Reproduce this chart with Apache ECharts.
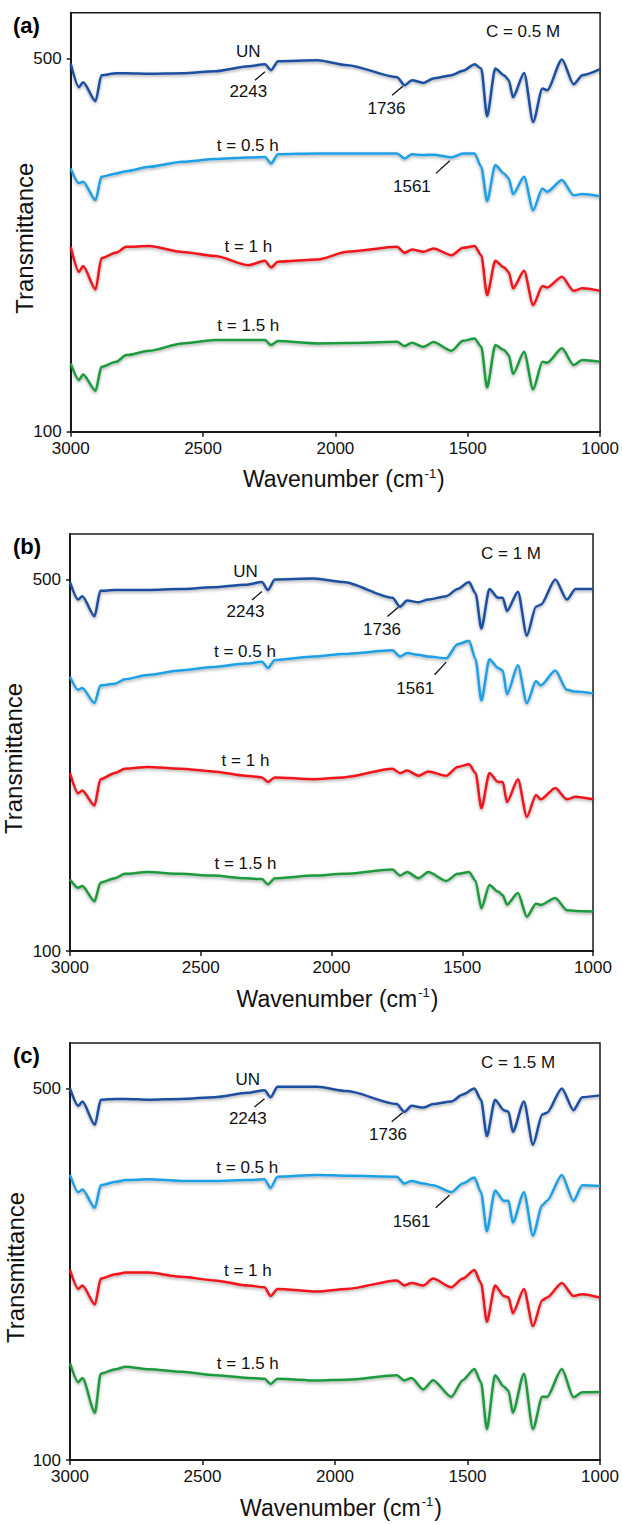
<!DOCTYPE html>
<html>
<head>
<meta charset="utf-8">
<title>FTIR spectra</title>
<script src="https://cdn.jsdelivr.net/npm/echarts@6/dist/echarts.min.js"></script>
<style>
  html, body { margin: 0; padding: 0; background: #fff; }
  #chart { width: 622px; height: 1525px; }
</style>
</head>
<body>
<div id="chart"></div>
<script>
// wavenumber sample points (cm-1), shared by every spectrum
const wavenumbers = [3000, 2969, 2953, 2906, 2884, 2828, 2790, 2703, 2579, 2454, 2329, 2266, 2243, 2217, 2067, 1955, 1767, 1738, 1711, 1667, 1630, 1561, 1518, 1474, 1449, 1427, 1396, 1363, 1345, 1329, 1287, 1253, 1218, 1200, 1144, 1100, 1067, 1000];

const seriesNames = ['UN', 't = 0.5 h', 't = 1 h', 't = 1.5 h'];
const concentrations = ['C = 0.5 M', 'C = 1 M', 'C = 1.5 M'];
const panelTags = ['(a)', '(b)', '(c)'];
const yTicks = [100, 500];

// panel (a) C = 0.5 M
const a_UN = [494.6, 469.2, 474.6, 454.2, 482.1, 484.2, 484.2, 483.7, 484.2, 486.3, 491.7, 493.8, 487.4, 497.1, 498.1, 492.8, 479.9, 471.3, 476.7, 473.8, 478.5, 482.1, 486.7, 493.8, 489.2, 438.1, 489.2, 482.1, 476.7, 458.5, 484.5, 432.0, 467.8, 466.0, 498.9, 472.4, 482.1, 488.5];
const a_05 = [382.1, 366.4, 367.8, 348.2, 373.1, 376.8, 379.2, 383.8, 389.2, 392.1, 393.7, 394.5, 387.5, 397.4, 398.2, 398.2, 398.2, 392.8, 397.4, 396.4, 396.9, 393.9, 398.2, 398.2, 383.8, 347.1, 385.7, 376.8, 371.4, 354.6, 373.1, 337.4, 360.7, 357.1, 369.6, 353.5, 354.6, 352.4];
const a_1 = [298.1, 271.4, 277.5, 252.5, 286.0, 292.0, 298.1, 298.9, 292.5, 288.2, 278.5, 283.1, 276.1, 282.1, 284.6, 292.8, 298.1, 291.7, 295.3, 292.8, 296.4, 289.2, 297.1, 298.9, 289.2, 246.4, 283.1, 276.1, 271.0, 253.6, 272.4, 235.7, 256.0, 254.6, 266.0, 251.0, 253.6, 251.0];
const a_15 = [173.2, 155.4, 161.4, 143.9, 169.6, 174.9, 182.1, 186.7, 194.6, 198.2, 198.2, 198.2, 192.8, 197.1, 194.6, 195.0, 196.4, 191.8, 195.3, 191.0, 196.0, 186.7, 197.4, 200.0, 191.0, 147.5, 192.8, 187.5, 182.1, 161.8, 185.6, 145.4, 174.9, 173.9, 189.3, 171.4, 176.8, 175.0];

// panel (b) C = 1 M
const b_UN = [497.2, 478.4, 482.1, 460.4, 487.8, 488.7, 488.7, 488.7, 489.7, 491.6, 494.4, 497.2, 488.7, 500.1, 501.0, 497.2, 480.3, 470.8, 477.4, 475.5, 478.4, 482.1, 489.7, 497.2, 485.0, 447.2, 489.7, 480.3, 480.3, 466.1, 486.9, 439.7, 470.8, 472.7, 500.1, 478.4, 489.7, 489.7];
const b_05 = [395.3, 381.2, 383.1, 367.0, 385.9, 387.8, 392.5, 397.2, 402.0, 405.7, 409.5, 411.4, 404.8, 413.3, 417.1, 419.9, 423.7, 417.1, 420.8, 418.9, 417.1, 415.2, 430.3, 434.0, 414.2, 369.9, 414.2, 404.8, 402.0, 376.5, 407.6, 367.0, 390.6, 385.9, 402.0, 381.2, 379.3, 377.4];
const b_1 = [291.6, 269.9, 272.7, 256.7, 285.0, 291.6, 296.3, 298.2, 296.3, 293.4, 288.7, 286.9, 282.1, 286.9, 285.0, 286.9, 296.3, 291.6, 294.4, 288.7, 293.4, 288.7, 298.2, 301.0, 291.6, 253.8, 291.6, 282.1, 282.1, 260.4, 285.0, 244.4, 268.0, 263.3, 275.5, 263.3, 266.1, 263.3];
const b_15 = [177.0, 168.0, 170.0, 153.5, 173.6, 178.4, 183.1, 185.0, 183.1, 181.2, 178.4, 177.4, 171.8, 178.4, 181.2, 183.1, 187.8, 181.2, 185.0, 178.4, 185.0, 175.5, 183.1, 185.0, 175.5, 146.0, 171.0, 164.0, 160.0, 150.0, 162.5, 137.0, 151.0, 149.6, 157.0, 144.0, 143.0, 142.4];

// panel (c) C = 1.5 M
const c_UN = [500.0, 481.4, 486.0, 460.9, 487.9, 488.8, 488.8, 487.9, 488.8, 490.7, 495.4, 498.1, 490.7, 501.9, 501.9, 497.2, 483.3, 474.9, 481.4, 479.5, 483.3, 486.0, 493.5, 500.0, 487.9, 448.8, 487.9, 476.7, 475.0, 453.5, 486.0, 439.5, 472.1, 474.0, 500.0, 476.7, 490.7, 492.6];
const c_05 = [407.0, 388.4, 391.2, 371.6, 395.8, 399.6, 401.4, 402.3, 400.5, 400.5, 401.4, 402.3, 393.0, 405.1, 407.0, 406.1, 405.1, 397.7, 400.5, 397.7, 395.8, 388.4, 397.7, 404.2, 388.4, 346.5, 390.2, 379.1, 379.1, 355.8, 388.4, 341.7, 374.4, 379.1, 407.0, 379.1, 395.8, 394.9];
const c_1 = [304.6, 284.2, 287.9, 267.4, 295.3, 300.0, 301.8, 301.8, 297.2, 293.4, 287.9, 286.0, 276.7, 284.2, 281.4, 284.2, 293.4, 287.9, 290.6, 287.9, 295.3, 286.0, 295.3, 304.6, 290.6, 248.9, 287.9, 276.7, 274.9, 258.1, 284.2, 244.2, 272.1, 274.9, 290.6, 276.7, 278.6, 274.9];
const c_15 = [204.2, 183.7, 188.4, 151.0, 193.0, 197.7, 200.5, 197.7, 194.9, 191.2, 188.4, 187.4, 181.9, 187.4, 185.6, 186.5, 191.2, 185.6, 188.4, 176.0, 186.0, 168.0, 186.0, 198.0, 183.7, 133.4, 191.2, 179.1, 174.5, 151.0, 193.0, 133.4, 168.0, 168.0, 198.0, 167.6, 173.0, 173.3];

const panelData = [
  [a_UN, a_05, a_1, a_15],
  [b_UN, b_05, b_1, b_15],
  [c_UN, c_05, c_1, c_15],
];
const yMax = [549, 549, 549];

// label anchors in data units [wavenumber, transmittance]
const curveLabelAt = [
  [[2329, 507], [2331, 407], [2329, 298], [2329, 213.5]],
  [[2329, 509], [2331, 423], [2329, 305], [2329, 194]],
  [[2329, 510], [2331, 415], [2329, 304], [2329, 204]],
];
const peakNotes = [
  [
    { text: '2243', from: [2266, 485.6], to: [2304, 476.7], at: [2329, 464.2] },
    { text: '1736', from: [1745, 470.3], to: [1786, 460.6], at: [1807, 446.4] },
    { text: '1561', from: [1568, 390.3], to: [1620, 376.8], at: [1711, 362.4] },
  ],
  [
    { text: '2243', from: [2266, 487], to: [2304, 478], at: [2329, 465.5] },
    { text: '1736', from: [1745, 470], to: [1786, 460.3], at: [1807, 446] },
    { text: '1561', from: [1561, 411], to: [1606, 397.5], at: [1680, 383] },
  ],
  [
    { text: '2243', from: [2266, 489], to: [2304, 480], at: [2329, 467.5] },
    { text: '1736', from: [1745, 474], to: [1786, 464.3], at: [1800, 450] },
    { text: '1561', from: [1568, 385], to: [1620, 371.5], at: [1711, 357] },
  ],
];

const colors = ['#1d4f9f', '#1fa0e6', '#f2141c', '#1e9a3c'];
const FONT = '"Liberation Sans", Arial, Helvetica, sans-serif';
const INK = '#1a1a1a';

const grids = [
  { left: 70.7, top: 12.7, width: 534.3, height: 419 },
  { left: 70, top: 534, width: 523, height: 417 },
  { left: 70, top: 1043, width: 530, height: 417 },
];
const yTitleX = [24, 13, 15];

const chart = echarts.init(document.getElementById('chart'), null, { renderer: 'svg' });

const plain = v => String(v);

const xAxes = grids.map((g, i) => ({
  type: 'value',
  gridIndex: i,
  inverse: true,
  min: 1000,
  max: 3000,
  interval: 500,
  axisLine: { show: true, lineStyle: { color: INK, width: 2 } },
  axisTick: { show: true, length: 5, lineStyle: { color: INK, width: 1.5 } },
  axisLabel: { margin: 8, fontSize: 17, color: '#111', fontFamily: FONT, formatter: plain },
  splitLine: { show: false },
}));

const yAxes = grids.map((g, i) => ({
  type: 'value',
  gridIndex: i,
  min: 100,
  max: yMax[i],
  axisLine: { show: true, lineStyle: { color: INK, width: 2 } },
  axisTick: { show: true, length: 4, customValues: yTicks, lineStyle: { color: INK, width: 1.5 } },
  axisLabel: { margin: 9, fontSize: 17, color: '#111', fontFamily: FONT, customValues: yTicks, formatter: plain },
  splitLine: { show: false },
}));

const series = [];
panelData.forEach((set, p) => {
  set.forEach((vals, k) => {
    series.push({
      name: seriesNames[k] + ' ' + concentrations[p],
      type: 'line',
      xAxisIndex: p,
      yAxisIndex: p,
      data: wavenumbers.map((w, j) => [w, vals[j]]),
      showSymbol: false,
      smooth: 0.25,
      smoothMonotone: 'x',
      lineStyle: {
        color: colors[k],
        width: 2.5,
        shadowColor: 'rgba(0,0,0,0.35)',
        shadowBlur: 3,
        shadowOffsetY: 1.5,
      },
      silent: true,
      z: 3,
    });
  });
});

chart.setOption({
  backgroundColor: '#fff',
  animation: false,
  grid: grids.map(g => Object.assign({ show: true, borderColor: INK, borderWidth: 1.5, backgroundColor: 'transparent' }, g)),
  xAxis: xAxes,
  yAxis: yAxes,
  series: series,
});

// text and leader lines, placed after the grids exist
const graphics = [];
grids.forEach((g, p) => {
  graphics.push({
    type: 'text', x: 13, y: g.top + 12.5,
    style: { text: panelTags[p], font: 'bold 22px ' + FONT, fill: '#000', textAlign: 'left', textVerticalAlign: 'middle' },
  });
  graphics.push({
    type: 'text', x: g.left + g.width - 82, y: g.top + 19,
    style: { text: concentrations[p], font: '17px ' + FONT, fill: '#111', textAlign: 'center', textVerticalAlign: 'middle' },
  });
  graphics.push({
    type: 'text', x: yTitleX[p], y: g.top + g.height / 2 + 16, rotation: Math.PI / 2,
    style: { text: 'Transmittance', font: '24px ' + FONT, fill: '#111', textAlign: 'center', textVerticalAlign: 'middle' },
  });
  graphics.push({
    type: 'text', x: g.left + g.width / 2 + 6, y: g.top + g.height + 46,
    style: {
      text: '{a|Wavenumber (cm}{s|-1}{a|)}',
      textAlign: 'center', textVerticalAlign: 'middle',
      rich: {
        a: { font: '23px ' + FONT, fill: '#111', lineHeight: 26, verticalAlign: 'bottom' },
        s: { font: '13px ' + FONT, fill: '#111', lineHeight: 26, verticalAlign: 'top', padding: [2, 1, 0, 1] },
      },
    },
  });
  curveLabelAt[p].forEach((pos, k) => {
    const pt = chart.convertToPixel({ gridIndex: p }, pos);
    graphics.push({
      type: 'text', x: pt[0], y: pt[1],
      style: { text: seriesNames[k], font: '17px ' + FONT, fill: '#111', textAlign: 'center', textVerticalAlign: 'middle' },
    });
  });
  peakNotes[p].forEach(n => {
    const a = chart.convertToPixel({ gridIndex: p }, n.from);
    const b = chart.convertToPixel({ gridIndex: p }, n.to);
    const t = chart.convertToPixel({ gridIndex: p }, n.at);
    graphics.push({
      type: 'line', shape: { x1: a[0], y1: a[1], x2: b[0], y2: b[1] },
      style: { stroke: '#111', lineWidth: 1.3 }, z: 10,
    });
    graphics.push({
      type: 'text', x: t[0], y: t[1],
      style: { text: n.text, font: '17px ' + FONT, fill: '#111', textAlign: 'center', textVerticalAlign: 'middle' },
    });
  });
});

chart.setOption({ graphic: graphics });
</script>
</body>
</html>
